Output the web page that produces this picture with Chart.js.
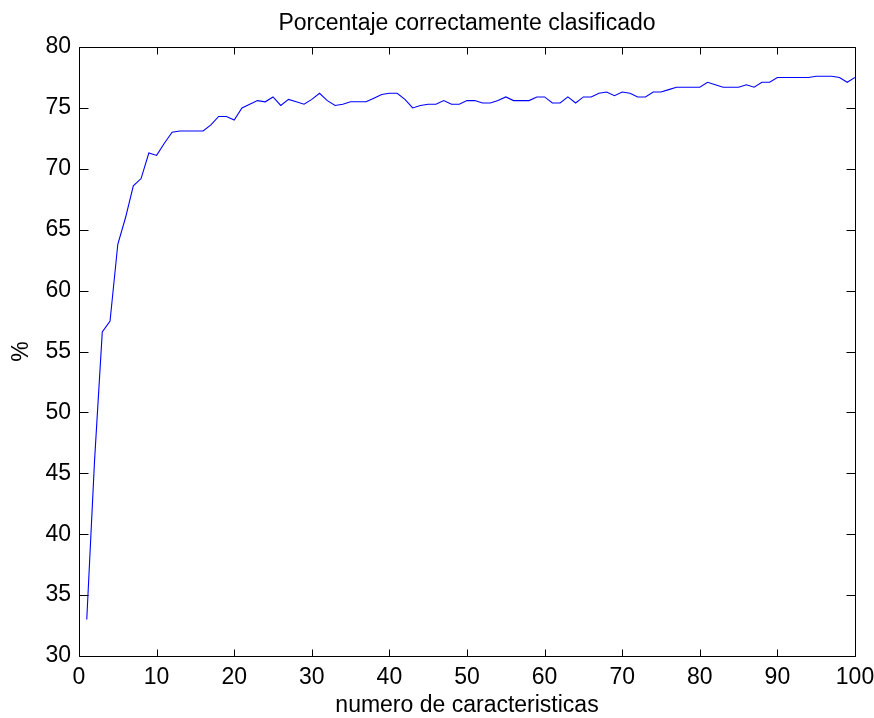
<!DOCTYPE html>
<html>
<head>
<meta charset="utf-8">
<title>Porcentaje correctamente clasificado</title>
<script src="https://cdn.jsdelivr.net/npm/chart.js@4.4.1/dist/chart.umd.min.js"></script>
<style>
  html, body { margin: 0; padding: 0; background: #fff; }
  #chart { display: block; }
</style>
</head>
<body>
<canvas id="chart" width="874" height="718"></canvas>
<script>
// number of features used by the classifier
const numFeatures = [
  1, 2, 3, 4, 5, 6, 7, 8, 9, 10,
  11, 12, 13, 14, 15, 16, 17, 18, 19, 20,
  21, 22, 23, 24, 25, 26, 27, 28, 29, 30,
  31, 32, 33, 34, 35, 36, 37, 38, 39, 40,
  41, 42, 43, 44, 45, 46, 47, 48, 49, 50,
  51, 52, 53, 54, 55, 56, 57, 58, 59, 60,
  61, 62, 63, 64, 65, 66, 67, 68, 69, 70,
  71, 72, 73, 74, 75, 76, 77, 78, 79, 80,
  81, 82, 83, 84, 85, 86, 87, 88, 89, 90,
  91, 92, 93, 94, 95, 96, 97, 98, 99, 100
];

// percentage correctly classified for each feature count
const pctCorrect = [
  33.0, 46.0, 56.6, 57.5, 63.8, 66.0, 68.6, 69.2, 71.3, 71.1,
  72.1, 73.0, 73.1, 73.1, 73.1, 73.1, 73.6, 74.3, 74.3, 74.0,
  75.0, 75.3, 75.6, 75.5, 75.9, 75.2, 75.7, 75.5, 75.3, 75.7,
  76.2, 75.6, 75.2, 75.3, 75.5, 75.5, 75.5, 75.8, 76.1, 76.2,
  76.2, 75.7, 75.0, 75.2, 75.3, 75.3, 75.6, 75.3, 75.3, 75.6,
  75.6, 75.4, 75.4, 75.6, 75.9, 75.6, 75.6, 75.6, 75.9, 75.9,
  75.4, 75.4, 75.9, 75.4, 75.9, 75.9, 76.2, 76.3, 76.0, 76.3,
  76.2, 75.9, 75.9, 76.3, 76.3, 76.5, 76.7, 76.7, 76.7, 76.7,
  77.1, 76.9, 76.7, 76.7, 76.7, 76.9, 76.7, 77.1, 77.1, 77.5,
  77.5, 77.5, 77.5, 77.5, 77.6, 77.6, 77.6, 77.5, 77.1, 77.5
];

const xRange = [0, 100];
const yRange = [30, 80];
const xStep = 10;
const yStep = 5;

Chart.defaults.font.family = '"Liberation Sans", Arial, Helvetica, sans-serif';
Chart.defaults.font.size = 23;
Chart.defaults.color = '#000';

// MATLAB-style box: full frame plus tick marks pointing inwards on all four sides
const axesBox = {
  id: 'axesBox',
  afterDraw(chart) {
    const { ctx, chartArea: a, scales: { x, y } } = chart;
    const left = Math.round(a.left) + 0.5;
    const right = Math.round(a.right) + 0.5;
    const top = Math.round(a.top) + 0.5;
    const bottom = Math.round(a.bottom) + 0.5;
    const tx = 7;   // vertical tick length on x axis
    const ty = 9;   // horizontal tick length on y axis

    ctx.save();
    ctx.strokeStyle = '#000';
    ctx.lineWidth = 1;
    ctx.beginPath();
    ctx.rect(left, top, right - left, bottom - top);

    x.ticks.forEach(t => {
      const px = Math.round(x.getPixelForValue(t.value)) + 0.5;
      ctx.moveTo(px, bottom);
      ctx.lineTo(px, bottom - tx);
      ctx.moveTo(px, top);
      ctx.lineTo(px, top + tx);
    });
    y.ticks.forEach(t => {
      const py = Math.round(y.getPixelForValue(t.value)) + 0.5;
      ctx.moveTo(left, py);
      ctx.lineTo(left + ty, py);
      ctx.moveTo(right, py);
      ctx.lineTo(right - ty, py);
    });
    ctx.stroke();
    ctx.restore();
  }
};

const points = numFeatures.map((n, i) => ({ x: n, y: pctCorrect[i] }));

new Chart(document.getElementById('chart'), {
  type: 'line',
  data: {
    datasets: [{
      data: points,
      borderColor: '#0000ff',
      borderWidth: 1.1,
      pointRadius: 0,
      tension: 0,
      fill: false
    }]
  },
  options: {
    responsive: false,
    animation: false,
    devicePixelRatio: 1,
    layout: {
      padding: { left: 0, right: 19, top: 0, bottom: 0 }
    },
    plugins: {
      legend: { display: false },
      tooltip: { enabled: false },
      title: { display: false }
    },
    scales: {
      x: {
        type: 'linear',
        min: xRange[0],
        max: xRange[1],
        ticks: { stepSize: xStep, padding: 8, maxRotation: 0 },
        grid: { drawOnChartArea: false, drawTicks: false },
        border: { display: false },
        title: {
          display: true,
          text: 'numero de caracteristicas',
          font: { lineHeight: 1.1 },
          padding: { top: 0, bottom: 0 }
        },
        afterFit(scale) {
          scale.height = 62;
          scale.paddingLeft = 0;
          scale.paddingRight = 0;
        }
      },
      // top axis only carries the chart title, centred over the plot box
      top: {
        type: 'linear',
        position: 'top',
        min: xRange[0],
        max: xRange[1],
        ticks: { display: false },
        grid: { display: false, drawTicks: false },
        border: { display: false },
        title: {
          display: true,
          text: 'Porcentaje correctamente clasificado',
          font: { lineHeight: 1.2 },
          padding: { top: 10, bottom: 0 }
        },
        afterFit(scale) {
          scale.height = 47;
          scale.paddingLeft = 0;
          scale.paddingRight = 0;
        }
      },
      y: {
        type: 'linear',
        min: yRange[0],
        max: yRange[1],
        ticks: { stepSize: yStep, padding: 8 },
        grid: { drawOnChartArea: false, drawTicks: false },
        border: { display: false },
        title: {
          display: true,
          text: '%',
          font: { lineHeight: 1.2 },
          padding: { top: 8, bottom: 0 }
        },
        afterFit(scale) { scale.width = 79; }
      }
    }
  },
  plugins: [axesBox]
});
</script>
</body>
</html>
